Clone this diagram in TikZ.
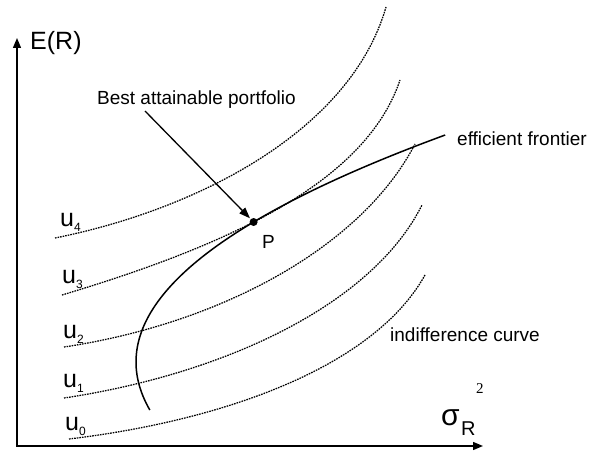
\documentclass[tikz,border=0pt]{standalone}
\usepackage{fontspec}
\setmainfont{Liberation Sans}
\newfontfamily\seriffont{Liberation Serif}
\usetikzlibrary{arrows.meta}
\begin{document}
\begin{tikzpicture}[x=1pt,y=-1pt,
  axisline/.style={line width=1.4pt},
  indiff/.style={line width=1.25pt, dash pattern=on 1.6pt off 1.0pt, line cap=butt},
  frontier/.style={line width=1.5pt},
  lbl/.style={inner sep=0pt, anchor=base west, font=\fontsize{19}{19}\selectfont},
  ulbl/.style={inner sep=0pt, anchor=base west, font=\fontsize{25}{25}\selectfont},
  ]
\useasboundingbox (0,0) rectangle (589,452);
% axes
\coordinate (O) at (17,446);
\coordinate (ytip) at (17,38);
\coordinate (xtip) at (483,446);
\draw[axisline, {Triangle[length=10pt,width=8pt]}-{Triangle[length=10pt,width=8pt]}] (ytip) -- (O) -- (xtip);
% indifference curves
\draw[indiff] (69,439) .. controls (229,419.8) and (375,365) .. (425,275);
\draw[indiff] (64,398) .. controls (224,374) and (372,305) .. (422,205);
\draw[indiff] (64,347) .. controls (224,323) and (363,245) .. (415,144);
\draw[indiff] (62,295) .. controls (222,247) and (365,185) .. (400,80);
\draw[indiff] (55,238) .. controls (200,209) and (351,129.5) .. (386,7);
% efficient frontier
\draw[frontier] plot[domain=410:135, samples=80, variable=\t] ({136+0.6*((\t-362)/10)^2}, \t);
% best portfolio P
\node[circle, fill, inner sep=0pt, minimum size=8pt] (P) at (253.6,222) {};
\node[lbl] (lblP) at (262,248) {P};
\node[lbl] (best) at (97,104) {Best attainable portfolio};
\coordinate (arrowstart) at (145,111);
\draw[line width=1.3pt, -{Triangle[length=11pt,width=8pt]}, shorten >=1pt] (arrowstart) -- (P);
% labels
\node[inner sep=0pt, anchor=base west, font=\fontsize{25}{25}\selectfont] (ER) at (30,50) {E(R)};
\node[lbl] (eff) at (457,145) {efficient frontier};
\node[lbl] (indifflbl) at (390,341) {indifference curve};
\node[ulbl] (u4) at (60,226) {u\raisebox{-5pt}{\fontsize{12}{12}\selectfont 4}};
\node[ulbl] (u3) at (62,283) {u\raisebox{-5pt}{\fontsize{12}{12}\selectfont 3}};
\node[ulbl] (u2) at (63,338) {u\raisebox{-5pt}{\fontsize{12}{12}\selectfont 2}};
\node[ulbl] (u1) at (63,387) {u\raisebox{-5pt}{\fontsize{12}{12}\selectfont 1}};
\node[ulbl] (u0) at (65,430) {u\raisebox{-5pt}{\fontsize{12}{12}\selectfont 0}};
\node[inner sep=0pt, anchor=base west, font=\fontsize{30}{30}\selectfont] (sigma) at (441,425) {σ};
\node[inner sep=0pt, anchor=base west, font=\fontsize{20}{20}\selectfont] (sigR) at (461,435) {R};
\node[inner sep=0pt, anchor=base west, font=\seriffont\fontsize{15}{15}\selectfont] (sigsq) at (476,393) {2};
\end{tikzpicture}
\end{document}
